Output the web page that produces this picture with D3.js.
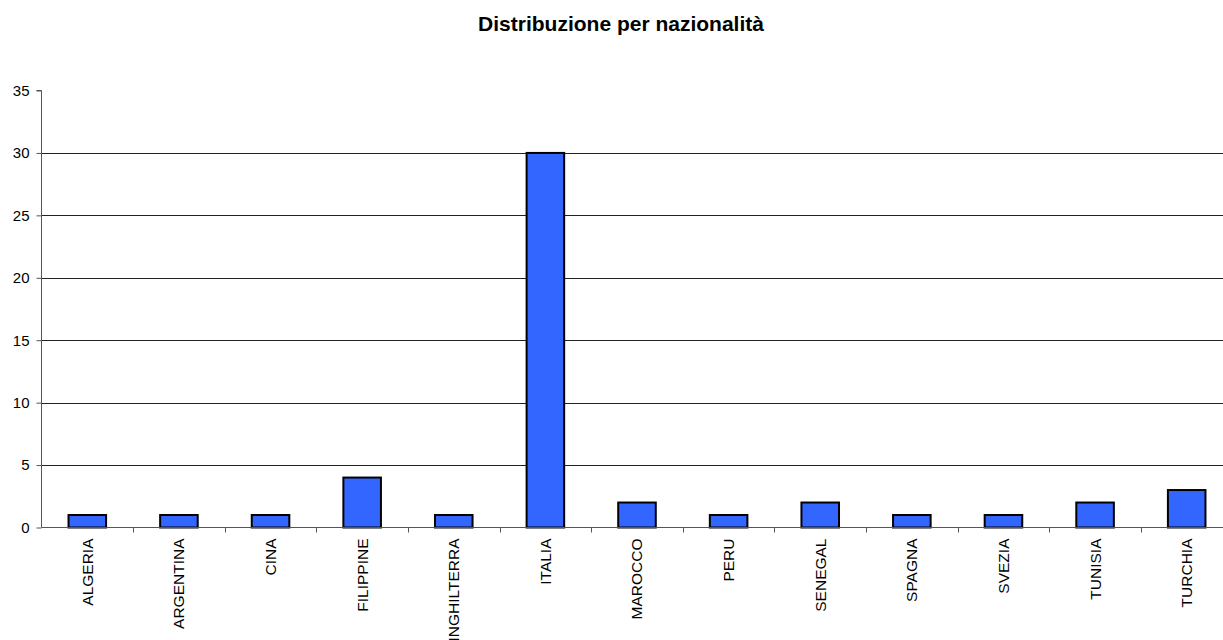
<!DOCTYPE html>
<html>
<head>
<meta charset="utf-8">
<script src="https://cdn.jsdelivr.net/npm/d3@7"></script>
<style>
  html, body { margin: 0; padding: 0; background: #fff; }
  svg { display: block; font-family: "Liberation Sans", Arial, sans-serif; }
</style>
</head>
<body>
<svg id="chart" width="1223" height="640"></svg>
<script>
// Persone per nazionalità
const categories = ["ALGERIA", "ARGENTINA", "CINA", "FILIPPINE", "INGHILTERRA", "ITALIA",
  "MAROCCO", "PERU", "SENEGAL", "SPAGNA", "SVEZIA", "TUNISIA", "TURCHIA"];
const values = [1, 1, 1, 4, 1, 30, 2, 1, 2, 1, 1, 2, 3];
const yTicks = [0, 5, 10, 15, 20, 25, 30, 35];
const title = "Distribuzione per nazionalità";

const svg = d3.select("#chart");
const margin = { left: 41.5, top: 90.5, bottom: 527.5 };
const plotRight = 1232.5;

const x = d3.scaleBand().domain(categories).range([margin.left, plotRight]).paddingInner(0).paddingOuter(0);
const y = d3.scaleLinear().domain([0, 35]).range([margin.bottom, margin.top]);

// title
svg.append("text")
  .attr("x", 621).attr("y", 31)
  .attr("text-anchor", "middle")
  .attr("font-size", 21).attr("font-weight", "bold")
  .attr("fill", "#000")
  .text(title);

// horizontal gridlines
svg.append("g")
  .selectAll("line")
  .data(yTicks.filter(d => d > 0 && d < 35))
  .join("line")
  .attr("x1", margin.left).attr("x2", 1223)
  .attr("y1", d => Math.round(y(d)) + 0.5).attr("y2", d => Math.round(y(d)) + 0.5)
  .attr("stroke", "#222").attr("stroke-width", 1);

// bars
const barW = x.bandwidth() * 0.41;
svg.append("g")
  .selectAll("rect")
  .data(values)
  .join("rect")
  .attr("x", (d, i) => x(categories[i]) + (x.bandwidth() - barW) / 2)
  .attr("y", d => y(d))
  .attr("width", barW)
  .attr("height", d => y(0) - y(d))
  .attr("fill", "#3366ff")
  .attr("stroke", "#000").attr("stroke-width", 2);

// y axis
const yAxis = svg.append("g")
  .attr("transform", `translate(${margin.left},0)`)
  .call(d3.axisLeft(y).tickValues(yTicks).tickSize(5).tickPadding(7).tickFormat(d3.format("d")));
yAxis.select(".domain").attr("stroke", "#555").attr("d", `M-5,${margin.top}H0V${margin.bottom}`);
yAxis.selectAll(".tick line").attr("stroke", "#555");
yAxis.selectAll(".tick text").attr("font-size", 15).attr("fill", "#000")
  .attr("font-family", "Liberation Sans, Arial, sans-serif");

// x axis
const xAxis = svg.append("g")
  .attr("transform", `translate(0,${margin.bottom})`)
  .call(d3.axisBottom(x).tickSize(0).tickPadding(0));
xAxis.select(".domain").attr("stroke", "#555").attr("d", `M${margin.left},0H${plotRight}`);
xAxis.selectAll(".tick text")
  .attr("font-size", 15.5).attr("fill", "#000")
  .attr("font-family", "Liberation Sans, Arial, sans-serif")
  .attr("transform", "rotate(-90)")
  .attr("text-anchor", "end")
  .attr("x", -11).attr("y", 0).attr("dy", "0.35em");

// category boundary tick marks
svg.append("g")
  .selectAll("line")
  .data(categories.slice(1))
  .join("line")
  .attr("x1", d => Math.round(x(d)) + 0.5).attr("x2", d => Math.round(x(d)) + 0.5)
  .attr("y1", margin.bottom).attr("y2", margin.bottom + 5)
  .attr("stroke", "#555");
</script>
</body>
</html>
